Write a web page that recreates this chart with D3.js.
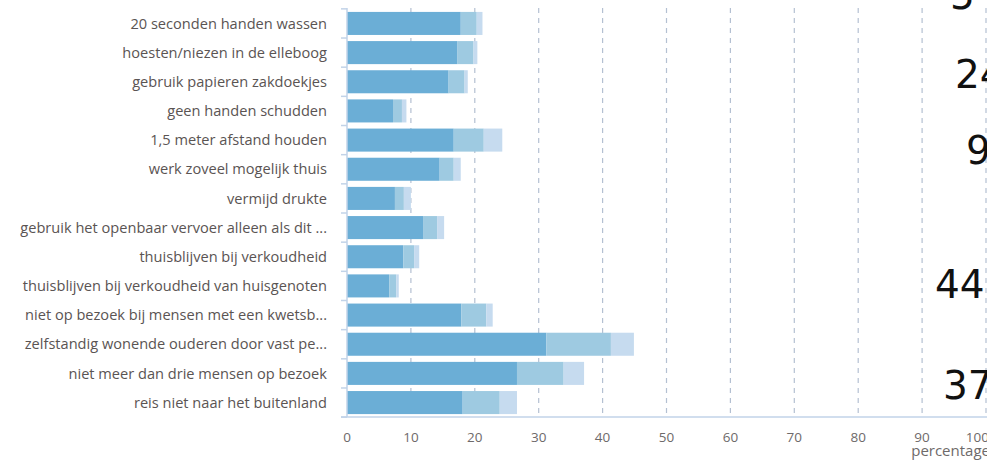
<!DOCTYPE html>
<html><head><meta charset="utf-8">
<script src="https://cdn.jsdelivr.net/npm/d3@7"></script>
<style>
html,body{margin:0;padding:0;background:#fff;overflow:hidden}
svg{display:block}
</style></head>
<body>
<script>
const categories = [
  "20 seconden handen wassen",
  "hoesten/niezen in de elleboog",
  "gebruik papieren zakdoekjes",
  "geen handen schudden",
  "1,5 meter afstand houden",
  "werk zoveel mogelijk thuis",
  "vermijd drukte",
  "gebruik het openbaar vervoer alleen als dit ...",
  "thuisblijven bij verkoudheid",
  "thuisblijven bij verkoudheid van huisgenoten",
  "niet op bezoek bij mensen met een kwetsb...",
  "zelfstandig wonende ouderen door vast pe...",
  "niet meer dan drie mensen op bezoek",
  "reis niet naar het buitenland"
];
const series1 = [17.8, 17.3, 15.9, 7.2, 16.7, 14.5, 7.5, 11.9, 8.8, 6.6, 17.9, 31.2, 26.6, 18.1];
const series2 = [2.5, 2.5, 2.5, 1.4, 4.7, 2.2, 1.4, 2.2, 1.7, 1.1, 3.9, 10.1, 7.3, 5.8];
const series3 = [0.9, 0.6, 0.5, 0.7, 2.9, 1.1, 1.1, 1.1, 0.8, 0.4, 1.0, 3.6, 3.2, 2.7];
const seriesNames = ["s1", "s2", "s3"];
const xTicks = [0, 10, 20, 30, 40, 50, 60, 70, 80, 90, 100];
const xTitle = "percentage";
const sideNumbers = ["5", "24", "9", "44", "37"];

const W = 987, H = 461;
const svg = d3.select("body").append("svg").attr("width", W).attr("height", H);

const x = d3.scaleLinear().domain([0, 100]).range([347, 986]);
const y = d3.scaleBand().domain(categories).range([9, 417]).paddingInner(0.21).paddingOuter(0.1);

const table = categories.map((c, i) => ({cat: c, s1: series1[i], s2: series2[i], s3: series3[i]}));
const stack = d3.stack().keys(seriesNames)(table);
const colors = d3.scaleOrdinal().domain(seriesNames).range(["#6baed6", "#9ecae1", "#c6dbef"]);

// grid
svg.append("g").selectAll("line").data(xTicks.filter(t => t > 0)).join("line")
  .attr("x1", d => x(d)).attr("x2", d => x(d))
  .attr("y1", 8).attr("y2", 417)
  .attr("stroke", "#b4c0d2").attr("stroke-width", 1.2).attr("stroke-dasharray", "5,5");

// bars
svg.append("g").selectAll("g").data(stack).join("g")
  .attr("fill", d => colors(d.key))
  .selectAll("rect").data(d => d).join("rect")
  .attr("x", d => x(d[0]))
  .attr("width", d => x(d[1]) - x(d[0]))
  .attr("y", d => y(d.data.cat))
  .attr("height", y.bandwidth());

// left axis line and ticks at band boundaries
const axisColor = "#c2d3e8";
svg.append("line").attr("x1", 347).attr("x2", 347).attr("y1", 8).attr("y2", 417)
  .attr("stroke", axisColor).attr("stroke-width", 1.5);
const step = y.step();
const bounds = d3.range(categories.length + 1).map(i => y(categories[0]) - (step - y.bandwidth()) / 2 + i * step);
svg.append("g").selectAll("line").data(bounds).join("line")
  .attr("x1", 341).attr("x2", 347).attr("y1", d => d).attr("y2", d => d)
  .attr("stroke", axisColor).attr("stroke-width", 1.5);

// bottom axis line
svg.append("line").attr("x1", 341).attr("x2", W).attr("y1", 417).attr("y2", 417)
  .attr("stroke", axisColor).attr("stroke-width", 1.5);

// x tick labels
svg.append("g").selectAll("text").data(xTicks).join("text")
  .attr("x", d => d === 100 ? x(d) + 3 : x(d)).attr("y", 442)
  .attr("text-anchor", d => d === 100 ? "end" : "middle")
  .attr("font-family", "Open Sans, sans-serif").attr("font-size", 13.5)
  .attr("fill", "#6e6a6a")
  .text(d => d);
svg.append("text").attr("x", 990).attr("y", 456).attr("text-anchor", "end")
  .attr("font-family", "Open Sans, sans-serif").attr("font-size", 15)
  .attr("fill", "#6e6a6a").text(xTitle);

// category labels
svg.append("g").selectAll("text").data(categories).join("text")
  .attr("x", 327).attr("y", d => y(d) + y.bandwidth() / 2)
  .attr("dy", "0.35em").attr("text-anchor", "end")
  .attr("font-family", "Open Sans, sans-serif").attr("font-size", 14.6)
  .attr("fill", "#5a5453")
  .text(d => d);

// side numbers (partly cut off at the right edge, as in the reference)
const sideX = [950, 955, 966, 935, 943];
const sideY = [9, 88, 164, 298, 399];
svg.append("g").selectAll("text").data(sideNumbers).join("text")
  .attr("x", (d, i) => sideX[i])
  .attr("y", (d, i) => sideY[i])
  .attr("font-family", "DejaVu Sans, sans-serif").attr("font-size", 39)
  .attr("fill", "#111")
  .text(d => d);
</script>
</body></html>
